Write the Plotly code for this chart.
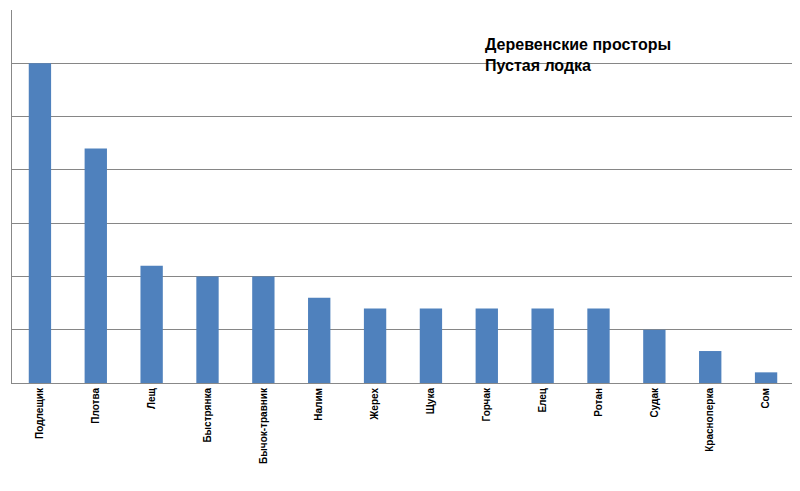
import plotly.graph_objects as go

categories = ["Подлещик", "Плотва", "Лещ", "Быстрянка", "Бычок-травник", "Налим", "Жерех",
              "Щука", "Горчак", "Елец", "Ротан", "Судак", "Красноперка", "Сом"]
values = [30, 22, 11, 10, 10, 8, 7, 7, 7, 7, 7, 5, 3, 1]
title_lines = ["Деревенские просторы", "Пустая лодка"]

fig = go.Figure(go.Bar(x=categories, y=values, marker_color="#4F81BD",
                       marker_line_width=0, width=0.4))
fig.update_layout(
    width=800, height=491, margin=dict(l=4, r=14, t=2, b=116),
    paper_bgcolor="white", plot_bgcolor="white", showlegend=False,
    font=dict(family="Liberation Sans, Arial", color="black"),
    annotations=[dict(text="<b>" + "<br>".join(title_lines) + "</b>", x=0.602, y=0.935,
                      xref="paper", yref="paper",
                      xanchor="left", yanchor="top", showarrow=False, align="left",
                      font=dict(size=16, color="black"))],
)
fig.update_xaxes(tickangle=-90, tickfont=dict(size=10, family="Liberation Sans, Arial", weight="bold"),
                 showline=True, linecolor="#888", ticks="", showgrid=False)
fig.update_yaxes(range=[0, 35], dtick=5, showticklabels=False, gridcolor="#868686",
                 gridwidth=1, zeroline=False, showline=True, linecolor="#888")
fig.write_html("out.html")
